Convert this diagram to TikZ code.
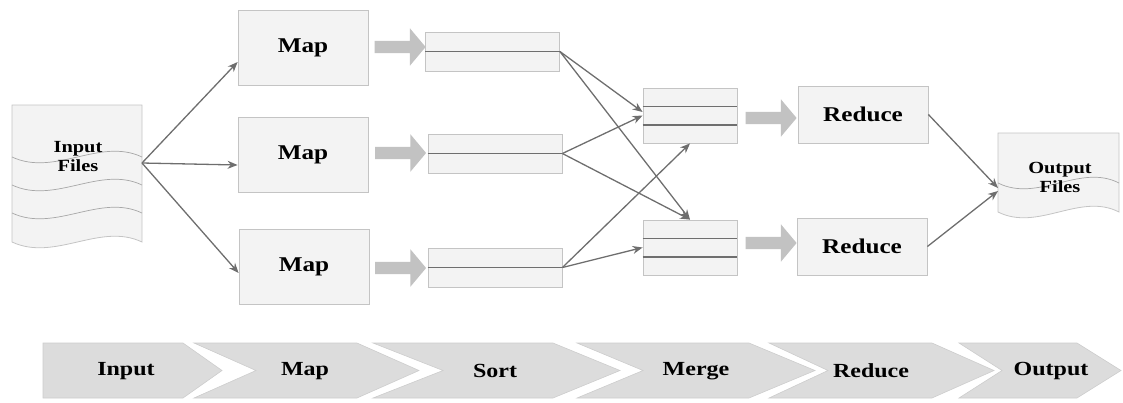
\documentclass[tikz,border=0pt]{standalone}
\usepackage{fontspec}
\newfontfamily\figfont{Liberation Serif}[FakeStretch=1.2]
\usepackage{tikz}
\usetikzlibrary{arrows.meta, shapes.arrows, calc}

\definecolor{boxfill}{HTML}{F3F3F3}
\definecolor{boxline}{HTML}{C4C4C4}
\definecolor{linegray}{HTML}{6E6E6E}
\definecolor{fatgray}{HTML}{C2C2C2}
\definecolor{bandfill}{HTML}{DCDCDC}
\definecolor{bandline}{HTML}{CDCDCD}

\tikzset{
	box/.style={draw=boxline, fill=boxfill, line width=0.8pt, font=\figfont\bfseries\fontsize{21}{23}\selectfont},
	mapbox/.style={box, minimum width=130pt, minimum height=75pt},
	sortbox/.style={box, minimum width=134pt, minimum height=39pt},
	mergebox/.style={box, minimum width=94pt, minimum height=55pt},
	redbox/.style={box, minimum width=130pt, minimum height=57pt},
	fatarrow/.style={single arrow, draw=none, fill=fatgray, minimum height=51pt, inner xsep=0pt, inner ysep=6pt, single arrow head extend=12.5pt, single arrow tip angle=100},
	inline/.style={draw=linegray, line width=1.4pt},
	doc/.style={draw=boxline, fill=boxfill, line width=0.8pt},
	wave/.style={draw=boxline!85!black, line width=0.7pt},
	doctext/.style={font=\figfont\bfseries\fontsize{17}{19}\selectfont, align=center},
	bandtext/.style={font=\figfont\bfseries\fontsize{20}{22}\selectfont}
}

\begin{document}
\begin{tikzpicture}[x=1pt, y=-1pt]
	\useasboundingbox (0,0) rectangle (1123,402);

	% input files
	\path [doc] (12,105) -- (142,105) -- (142,242) .. controls (100,222) and (55,262) .. (12,242) -- cycle;
	\foreach \y in {157,185,213}
		\draw [wave] (12,\y) .. controls (55,\y+20) and (100,\y-20) .. (142,\y);
	\node (infiles) [doctext] at (78,157) {Input\\Files};
	\coordinate (inR) at (142,163);

	% map
	\node (map1) [mapbox] at (303,47.5) {Map};
	\node (map2) [mapbox] at (303,154.5) {Map};
	\node (map3) [mapbox] at (304,267) {Map};

	\node (f1) [fatarrow] at (397.5,47) {};
	\node (f2) [fatarrow] at (398,153) {};
	\node (f3) [fatarrow] at (398,268) {};

	% sort
	\node (s1) [sortbox] at (492.5,51.5) {};
	\node (s2) [sortbox] at (495,153.5) {};
	\node (s3) [sortbox] at (495,267.5) {};
	\foreach \s in {s1,s2,s3}
		\draw [inline] (\s.west) -- (\s.east);

	% merge
	\node (m1) [mergebox] at (690,115.5) {};
	\node (m2) [mergebox] at (690,247.5) {};
	\foreach \m in {m1,m2} {
		\draw [inline] ($(\m.north west)!1/3!(\m.south west)$) -- ($(\m.north east)!1/3!(\m.south east)$);
		\draw [inline] ($(\m.north west)!2/3!(\m.south west)$) -- ($(\m.north east)!2/3!(\m.south east)$);
	}

	\node (g1) [fatarrow] at (768.5,118) {};
	\node (g2) [fatarrow] at (768.5,243) {};

	% reduce
	\node (r1) [redbox] at (863,114.5) {Reduce};
	\node (r2) [redbox] at (862,246.5) {Reduce};

	% output files
	\path [doc] (998,133) -- (1119,133) -- (1119,212) .. controls (1080,192) and (1038,232) .. (998,212) -- cycle;
	\draw [wave] (998,183) .. controls (1038,203) and (1080,163) .. (1119,183);
	\node (outfiles) [doctext] at (1060,177) {Output\\Files};
	\coordinate (outL1) at (998,188);
	\coordinate (outL2) at (998,191);

	\path [-{Stealth[length=10pt, width=8pt]}, linegray, line width=1.3pt]
	(inR) edge ([yshift=-14.5pt]map1.west)
	(inR) edge ([yshift=-10.5pt]map2.west)
	(inR) edge ([yshift=-6pt]map3.west)
	(s1.east) edge ([yshift=3.5pt]m1.west)
	(s1.east) edge (m2.north)
	(s2.east) edge (m1.west)
	(s2.east) edge (m2.north)
	(s3.east) edge (m1.south)
	(s3.east) edge (m2.west)
	(r1.east) edge (outL1)
	(r2.east) edge (outL2)
	;

	% phase band
	\foreach \l/\n/\s/\t/\lx/\name/\txt in {
		43/43/183/222/126/bin/Input,
		194/256/357/419/305/bmap/Map,
		373/443/553/620/495/bsort/Sort,
		577/643/749/815/696/bmerge/Merge,
		769/828/932/994/871/breduce/Reduce,
		959/1002/1077/1121/1051/bout/Output} {
		\fill [bandfill, draw=bandline, line width=0.6pt] (\l,343) -- (\s,343) -- (\t,370.5) -- (\s,398) -- (\l,398) -- (\n,370.5) -- cycle;
		\node (\name) [bandtext] at (\lx,371) {\txt};
	}
\end{tikzpicture}
\end{document}
